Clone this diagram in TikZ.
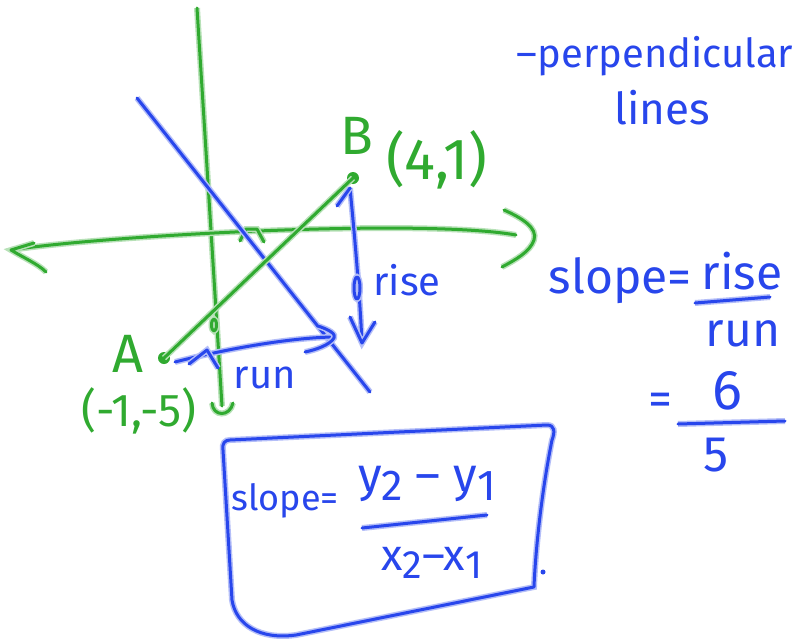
\documentclass[tikz,border=0pt]{standalone}
\usepackage{fontspec}
\setmainfont{Fira Sans}
\usepackage{tikz}
\usetikzlibrary{arrows.meta,calc,positioning}
\usepackage{xcolor}
\definecolor{inkgreen}{RGB}{48,170,48}
\definecolor{inkblue}{RGB}{40,70,236}
\newcommand{\inksize}[1]{\fontsize{#1}{#1}\selectfont}
\newcommand{\inksub}[1]{\raisebox{-0.35ex}{\scalebox{0.9}{#1}}}

\begin{document}
\begin{tikzpicture}[x=1pt, y=-1pt,
    pen/.style={draw=#1, line width=3pt, line cap=round, line join=round,
      preaction={draw=#1!35, line width=6pt}},
    gpen/.style={pen=inkgreen},
    bpen/.style={pen=inkblue},
    ink/.style={text=#1, inner sep=0pt},
    dot/.style={circle, fill=inkgreen, inner sep=0pt, minimum size=12pt}]
  \useasboundingbox[fill=white] (0,0) rectangle (796,638);
  % axes
  \coordinate (yt) at (197,8);
  \coordinate (yb) at (222,406);
  \coordinate (xl) at (11,250);
  \coordinate (xr) at (516,235);
  \draw[gpen] (yt) -- (yb);
  \draw[gpen] (212,403) .. controls (213,417) and (230,417) .. (233,403);
  \draw[gpen] (xl) .. controls (100,236) and (420,218) .. (xr);
  \draw[gpen] (34,243) -- (xl) .. controls (24,258) and (38,264) .. (46,272);
  \draw[gpen] (504,210) .. controls (522,218) and (538,228) .. (534,240)
    .. controls (530,252) and (515,260) .. (502,267);
  \draw[gpen] (214,325) ellipse (2.5 and 6);
  \draw[gpen] (240,241) -- (246,229) -- (257,229) -- (264,242);
  % perpendicular line
  \coordinate (pt) at (137,98);
  \coordinate (pb) at (370,392);
  \draw[bpen] (pt) -- (pb);
  % segment AB
  \node[dot] (A) at (164,358) {};
  \node[dot] (B) at (353,178) {};
  \draw[gpen] (A.center) -- (B.center);
  \node[ink=inkgreen, font=\inksize{54}] (labA) at (128,354) {A};
  \node[ink=inkgreen, font=\inksize{54}] (labB) at (357,136) {B};
  \node[ink=inkgreen, font=\inksize{58}] (ptB) at (437,160) {(4,1)};
  \node[ink=inkgreen, font=\inksize{46}] (ptA) at (139,411) {(-1,-5)};
  % rise and run
  \coordinate (rt) at (350,188);
  \coordinate (rb) at (362,343);
  \draw[bpen] (rt) .. controls (356,250) and (360,300) .. (rb);
  \draw[bpen] (337,206) -- (rt);
  \draw[bpen] (350,317) -- (rb) -- (375,322);
  \draw[bpen] (357,288) ellipse (3 and 11);
  \node[ink=inkblue, font=\inksize{40}] (rise) at (407,280) {rise};
  \coordinate (ul) at (175,362);
  \coordinate (ur) at (332,337);
  \draw[bpen] (ul) .. controls (230,348) and (290,338) .. (ur);
  \draw[bpen] (318,326) .. controls (330,330) and (336,334) .. (334,338)
    .. controls (330,345) and (315,350) .. (305,352);
  \draw[bpen] (189,364) -- (207,350) -- (218,368);
  \node[ink=inkblue, font=\inksize{40}] (run) at (265,378) {run};
  % title
  \node[ink=inkblue, font=\inksize{40}] (title) at (655,56) {–perpendicular};
  \node[ink=inkblue, font=\inksize{44}] (lines) at (662,108) {lines};
  % slope = rise/run
  \node[ink=inkblue, font=\inksize{48}, anchor=base east] (slope) at (692,293) {slope=};
  \node[ink=inkblue, font=\inksize{48}, anchor=base] (num) at (742,289) {rise};
  \node[ink=inkblue, font=\inksize{48}] (den) at (743,334) {run};
  \draw[bpen] (695,303) -- (770,297);
  \node[ink=inkblue, font=\inksize{48}] (eq) at (660,404) {=};
  \node[ink=inkblue, font=\inksize{56}] (six) at (727,391) {6};
  \node[ink=inkblue, font=\inksize{50}] (five) at (716,455) {5};
  \draw[bpen] (678,424) -- (785,421);
  % formula box
  \draw[bpen] (230,440) -- (547,425) .. controls (555,425) and (555,432) .. (552,440)
    .. controls (540,500) and (535,560) .. (534,587) -- (296,635)
    .. controls (260,640) and (236,625) .. (232,600) -- (223,450)
    .. controls (222,443) and (225,440) .. cycle;
  \fill[inkblue] (543,572) circle (2.5pt);
  \node[ink=inkblue, font=\inksize{36}, anchor=base] (bslope) at (285,510) {slope=};
  \node[ink=inkblue, font=\inksize{48}] (dy) at (427,484) {y\inksub{2} – y\inksub{1}};
  \node[ink=inkblue, font=\inksize{44}] (dx) at (432,563) {x\inksub{2}–x\inksub{1}};
  \draw[bpen] (362,528) -- (487,515);
\end{tikzpicture}
\end{document}
